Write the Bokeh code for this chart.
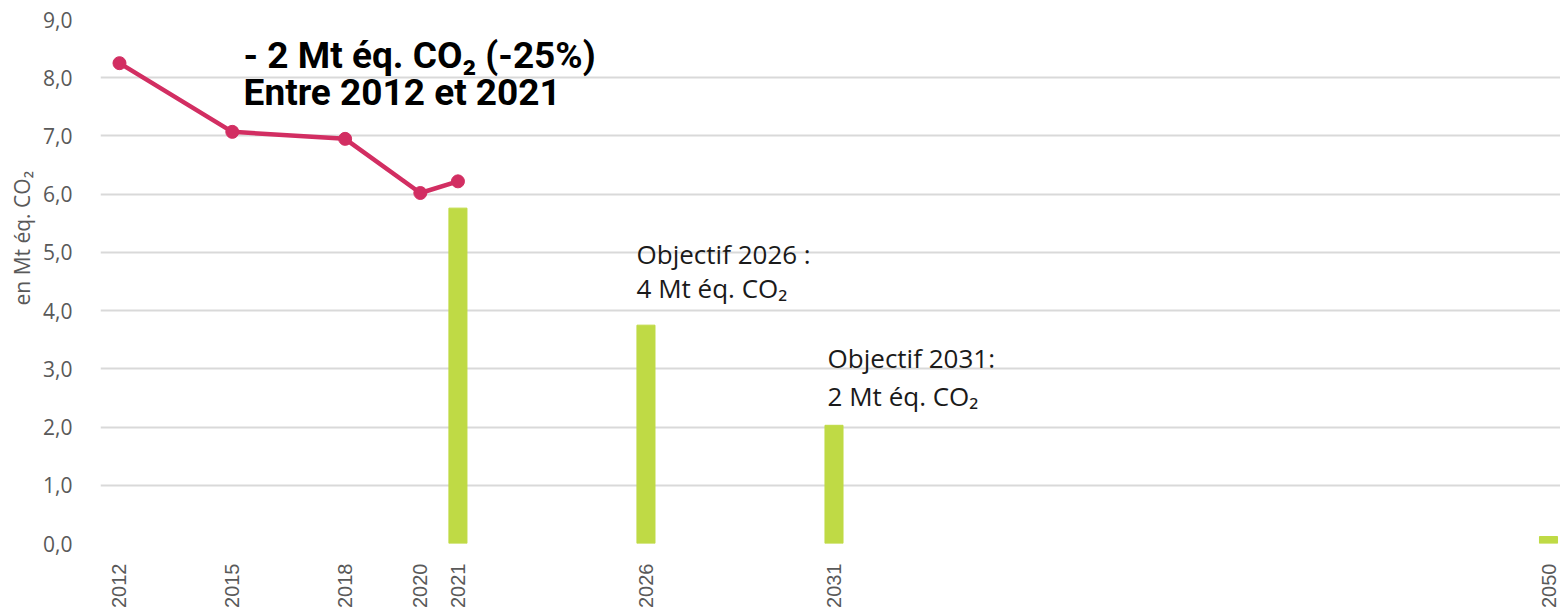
from math import pi
from bokeh.plotting import figure
from bokeh.models import FixedTicker, Range1d, Label, Title
from bokeh.embed import file_html
from bokeh.resources import INLINE

# ---- data ----
line_years = [2012, 2015, 2018, 2020, 2021]
line_values = [8.25, 7.07, 6.95, 6.02, 6.22]
bar_years = [2021, 2026, 2031, 2050]
bar_values = [5.76, 3.75, 2.03, 0.12]
x_ticks = [2012, 2015, 2018, 2020, 2021, 2026, 2031, 2050]
y_ticks = [0, 1, 2, 3, 4, 5, 6, 7, 8, 9]
y_tick_labels = ["0,0", "1,0", "2,0", "3,0", "4,0", "5,0", "6,0", "7,0", "8,0", "9,0"]

LINE_COLOR = "#D22E62"
BAR_COLOR = "#BFDA45"
GRID = "#D9D9D9"
TICK_COL = "#595959"

p = figure(width=1560, height=610, output_backend="svg", toolbar_location=None,
           x_range=Range1d(2011.495, 2050.319), y_range=Range1d(0, 9))
p.min_border_left = 100
p.min_border_right = 0
p.min_border_top = 19
p.min_border_bottom = 67
p.outline_line_color = None

p.vbar(x=bar_years, top=bar_values, width=0.48, color=BAR_COLOR)
p.line(line_years, line_values, line_color=LINE_COLOR, line_width=4.5)
p.scatter(line_years, line_values, size=13, color=LINE_COLOR)

# axes
p.xaxis.ticker = FixedTicker(ticks=x_ticks)
p.xaxis.major_label_orientation = pi / 2
p.xaxis.axis_line_color = None
p.xaxis.major_tick_line_color = None
p.xaxis.minor_tick_line_color = None
p.xaxis.major_label_standoff = 14
p.xaxis.major_label_text_font = "Liberation Sans"
p.xaxis.major_label_text_font_size = "20px"
p.xaxis.major_label_text_color = TICK_COL

p.yaxis.ticker = FixedTicker(ticks=y_ticks)
p.yaxis.major_label_overrides = {t: l for t, l in zip(y_ticks, y_tick_labels)}
p.yaxis.axis_line_color = None
p.yaxis.major_tick_line_color = None
p.yaxis.minor_tick_line_color = None
p.yaxis.major_label_standoff = 22
p.yaxis.major_label_text_font = "Open Sans"
p.yaxis.major_label_text_font_size = "21px"
p.yaxis.major_label_text_color = TICK_COL

p.xgrid.grid_line_color = None
p.ygrid.grid_line_color = GRID
p.ygrid.grid_line_width = 2

# y axis title (as a side title so it can sit outside the frame)
p.add_layout(Title(text="en Mt éq. CO₂", align="left", offset=238,
                   text_font="Open Sans", text_font_size="21px", text_font_style="normal",
                   text_color=TICK_COL, standoff=10), "left")

# annotations
for yy, t in [(8.38, "- 2 Mt éq. CO₂ (-25%)"), (7.74, "Entre 2012 et 2021")]:
    p.add_layout(Label(x=2015.30, y=yy, text=t,
                       text_font="Roboto", text_font_style="bold", text_font_size="37px",
                       text_color="#000000", text_baseline="alphabetic"))
for xx, yy, t in [(2025.75, 4.98, "Objectif 2026 :"), (2025.75, 4.38, "4 Mt éq. CO₂"),
                  (2030.83, 3.19, "Objectif 2031:"), (2030.83, 2.53, "2 Mt éq. CO₂")]:
    p.add_layout(Label(x=xx, y=yy, text=t, text_font="Open Sans", text_font_size="26px",
                       text_color="#1a1a1a", text_baseline="alphabetic"))

open("out.html", "w").write(file_html(p, INLINE))
